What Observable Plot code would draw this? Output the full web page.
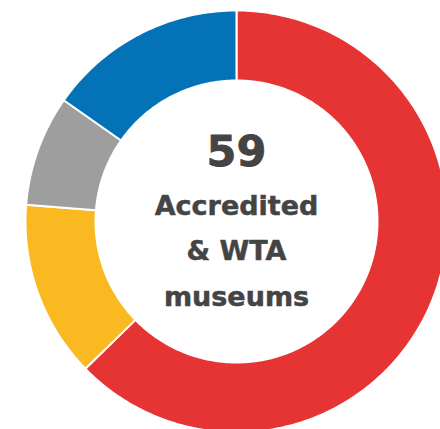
<!DOCTYPE html>
<html>
<head>
<meta charset="utf-8">
<script src="https://cdn.jsdelivr.net/npm/d3@7"></script>
<script src="https://cdn.jsdelivr.net/npm/@observablehq/plot@0.6"></script>
<style>
  html, body { margin: 0; padding: 0; background: #fff; }
  #chart { width: 440px; height: 429px; overflow: hidden; }
</style>
</head>
<body>
<div id="chart"></div>
<script>
// Data
const categories = ["Group 1", "Group 2", "Group 3", "Group 4"];
const values = [37, 8, 5, 9];
const colors = ["#e63333", "#fbb921", "#9e9e9e", "#0472b6"];
const totalLabel = String(d3.sum(values));
const centerLabel = "Accredited\n& WTA\nmuseums";

const innerRatio = 141 / 211;
const pie = d3.pie().sort(null).value(d => d.value)(
  categories.map((c, i) => ({category: c, value: values[i]}))
);

// sample each slice's ring outline in unit coordinates
const pts = [];
for (const s of pie) {
  const n = Math.max(8, Math.ceil((s.endAngle - s.startAngle) * 60));
  const outer = [], inner = [];
  for (let k = 0; k <= n; k++) {
    const a = s.startAngle + (s.endAngle - s.startAngle) * k / n;
    outer.push({category: s.data.category, x: Math.sin(a), y: Math.cos(a)});
    inner.push({category: s.data.category, x: innerRatio * Math.sin(a), y: innerRatio * Math.cos(a)});
  }
  pts.push(...outer, ...inner.reverse());
}

const W = 440, H = 429, R = 211, cx = 236, cy = 221;
const chart = Plot.plot({
  width: W,
  height: H,
  marginLeft: cx - R,
  marginRight: 0,
  marginTop: cy - R,
  marginBottom: 0,
  x: {domain: [-1, (W - cx) / R], axis: null},
  y: {domain: [-(H - cy) / R, 1], axis: null},
  color: {domain: categories, range: colors},
  style: {background: "#fff"},
  marks: [
    Plot.line(pts, {x: "x", y: "y", z: "category", fill: "category", stroke: "#fff", strokeWidth: 2, curve: "linear-closed"}),
    Plot.text([totalLabel], {x: () => 0, y: () => 0, text: d => d, fontSize: 43, fontWeight: 700, fill: "#444", stroke: "#444", strokeWidth: 0.8, lineAnchor: "bottom", dy: -56, fontFamily: "'DejaVu Sans', sans-serif"}),
    Plot.text([centerLabel], {x: () => 0, y: () => 0, text: d => d, fontSize: 27, fontWeight: 700, fill: "#444", stroke: "#444", strokeWidth: 0.5, lineAnchor: "bottom", lineHeight: 1.67, dy: 84, fontFamily: "'DejaVu Sans', sans-serif"})
  ]
});
document.getElementById("chart").appendChild(chart);
</script>
</body>
</html>
